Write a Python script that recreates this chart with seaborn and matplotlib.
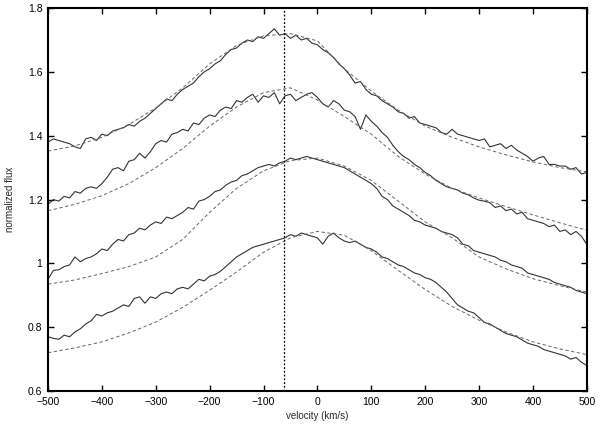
import numpy as np
import pandas as pd
import seaborn as sns
import matplotlib.pyplot as plt

# velocity grid of the observed profiles (km/s)
velocity = list(range(-500, 501, 10))

obs_a = [1.38, 1.39, 1.385, 1.38, 1.375, 1.365, 1.36, 1.39, 1.395, 1.385,
         1.405, 1.40, 1.415, 1.42, 1.425, 1.435, 1.43, 1.445, 1.455, 1.47,
         1.485, 1.50, 1.515, 1.51, 1.53, 1.545, 1.555, 1.565, 1.585, 1.60,
         1.61, 1.625, 1.635, 1.655, 1.67, 1.675, 1.69, 1.70, 1.695, 1.71,
         1.705, 1.72, 1.735, 1.715, 1.72, 1.705, 1.715, 1.70, 1.705, 1.69,
         1.685, 1.67, 1.66, 1.645, 1.625, 1.61, 1.59, 1.565, 1.57, 1.545,
         1.53, 1.525, 1.51, 1.50, 1.49, 1.475, 1.47, 1.455, 1.46, 1.44,
         1.435, 1.43, 1.425, 1.41, 1.405, 1.42, 1.405, 1.40, 1.395, 1.39,
         1.385, 1.39, 1.365, 1.37, 1.375, 1.36, 1.37, 1.355, 1.345, 1.335,
         1.32, 1.33, 1.335, 1.31, 1.31, 1.305, 1.305, 1.295, 1.30, 1.28,
         1.285]
obs_b = [1.185, 1.20, 1.195, 1.21, 1.205, 1.225, 1.22, 1.235, 1.24, 1.235,
         1.25, 1.27, 1.295, 1.30, 1.29, 1.32, 1.325, 1.345, 1.33, 1.35,
         1.375, 1.385, 1.38, 1.405, 1.41, 1.42, 1.415, 1.44, 1.435, 1.455,
         1.465, 1.46, 1.48, 1.49, 1.485, 1.51, 1.505, 1.52, 1.53, 1.505,
         1.525, 1.52, 1.535, 1.50, 1.525, 1.53, 1.51, 1.52, 1.53, 1.535,
         1.52, 1.50, 1.49, 1.51, 1.50, 1.48, 1.475, 1.46, 1.42, 1.465,
         1.445, 1.43, 1.41, 1.395, 1.37, 1.35, 1.335, 1.325, 1.31, 1.30,
         1.285, 1.275, 1.26, 1.25, 1.24, 1.235, 1.23, 1.22, 1.215, 1.205,
         1.198, 1.195, 1.19, 1.175, 1.18, 1.165, 1.17, 1.155, 1.16, 1.14,
         1.135, 1.13, 1.125, 1.115, 1.12, 1.10, 1.105, 1.09, 1.10, 1.085,
         1.06]
obs_c = [0.95, 0.978, 0.98, 0.99, 0.995, 1.02, 1.005, 1.015, 1.02, 1.03,
         1.045, 1.04, 1.06, 1.075, 1.07, 1.09, 1.095, 1.11, 1.105, 1.12,
         1.13, 1.125, 1.145, 1.14, 1.15, 1.16, 1.175, 1.17, 1.195, 1.20,
         1.21, 1.225, 1.23, 1.245, 1.255, 1.26, 1.275, 1.28, 1.29, 1.30,
         1.305, 1.31, 1.305, 1.315, 1.32, 1.33, 1.325, 1.33, 1.335, 1.33,
         1.325, 1.32, 1.315, 1.31, 1.305, 1.30, 1.29, 1.28, 1.27, 1.26,
         1.25, 1.235, 1.21, 1.20, 1.18, 1.17, 1.16, 1.15, 1.135, 1.13,
         1.12, 1.115, 1.11, 1.10, 1.095, 1.09, 1.08, 1.06, 1.055, 1.04,
         1.035, 1.03, 1.025, 1.02, 1.01, 1.005, 0.995, 0.99, 0.985, 0.97,
         0.965, 0.96, 0.955, 0.95, 0.94, 0.935, 0.93, 0.925, 0.915, 0.91,
         0.905]
obs_d = [0.77, 0.765, 0.762, 0.775, 0.77, 0.785, 0.795, 0.81, 0.82, 0.84,
         0.835, 0.845, 0.85, 0.86, 0.87, 0.865, 0.89, 0.895, 0.875, 0.895,
         0.89, 0.905, 0.91, 0.905, 0.92, 0.925, 0.92, 0.935, 0.95, 0.945,
         0.96, 0.965, 0.975, 0.99, 1.005, 1.02, 1.03, 1.04, 1.05, 1.055,
         1.06, 1.065, 1.07, 1.075, 1.08, 1.09, 1.085, 1.095, 1.09, 1.085,
         1.08, 1.06, 1.085, 1.095, 1.08, 1.07, 1.065, 1.07, 1.06, 1.05,
         1.045, 1.035, 1.02, 1.015, 1.005, 0.995, 0.99, 0.98, 0.97, 0.965,
         0.955, 0.95, 0.94, 0.925, 0.91, 0.89, 0.87, 0.86, 0.85, 0.845,
         0.83, 0.815, 0.81, 0.80, 0.79, 0.78, 0.775, 0.77, 0.76, 0.75,
         0.745, 0.74, 0.73, 0.725, 0.72, 0.715, 0.71, 0.70, 0.705, 0.69,
         0.68]

# model profiles (dashed)
model_v = list(range(-500, 501, 50))
model_a = [1.352, 1.368, 1.395, 1.435, 1.487, 1.55, 1.625, 1.683, 1.713, 1.72,
           1.697, 1.61, 1.54, 1.48, 1.43, 1.395, 1.365, 1.34, 1.318, 1.30, 1.287]
model_b = [1.165, 1.185, 1.212, 1.25, 1.30, 1.36, 1.43, 1.49, 1.535, 1.55,
           1.512, 1.46, 1.405, 1.335, 1.28, 1.235, 1.205, 1.178, 1.152, 1.127, 1.104]
model_c = [0.935, 0.948, 0.968, 0.99, 1.02, 1.075, 1.16, 1.235, 1.29, 1.322,
           1.33, 1.305, 1.26, 1.195, 1.13, 1.08, 1.02, 0.983, 0.952, 0.93, 0.91]
model_d = [0.72, 0.735, 0.754, 0.782, 0.816, 0.862, 0.916, 0.973, 1.035, 1.08,
           1.10, 1.088, 1.04, 0.978, 0.918, 0.865, 0.822, 0.785, 0.754, 0.732, 0.714]

v_line = -62

x_ticks = list(range(-500, 501, 100))
y_ticks = [0.6, 0.8, 1.0, 1.2, 1.4, 1.6, 1.8]
y_labels = ["0.6", "0.8", "1", "1.2", "1.4", "1.6", "1.8"]

sns.set_theme(style="ticks")
plt.rcParams['font.family'] = ['Liberation Sans', 'DejaVu Sans']

fig = plt.figure(figsize=(6, 4.25), dpi=100)
ax = fig.add_axes([0.08, 0.08, 0.898, 0.901])

for obs in [obs_a, obs_b, obs_c, obs_d]:
    sns.lineplot(x=velocity, y=obs, ax=ax, color="#333333", linewidth=0.8,
                 estimator=None)
for mod in [model_a, model_b, model_c, model_d]:
    sns.lineplot(x=model_v, y=mod, ax=ax, color="#666666", linewidth=0.7,
                 estimator=None, linestyle=(0, (3.5, 2.5)))

ax.axvline(v_line, color="black", linewidth=0.9, linestyle=(0, (1.5, 1.5)))

ax.set_xlim(-500, 500)
ax.set_ylim(0.6, 1.8)
ax.set_xticks(x_ticks)
ax.set_yticks(y_ticks)
ax.set_yticklabels(y_labels)
ax.tick_params(direction="in", top=True, right=True, length=4, width=1,
               labelsize=7.5, colors="black", pad=4)
for s in ax.spines.values():
    s.set_linewidth(1.5)
    s.set_color("black")
ax.set_xlabel("velocity (km/s)", fontsize=7, labelpad=3)
ax.set_ylabel("normalized flux", fontsize=7, labelpad=9)

fig.savefig("out.png", dpi=100)
